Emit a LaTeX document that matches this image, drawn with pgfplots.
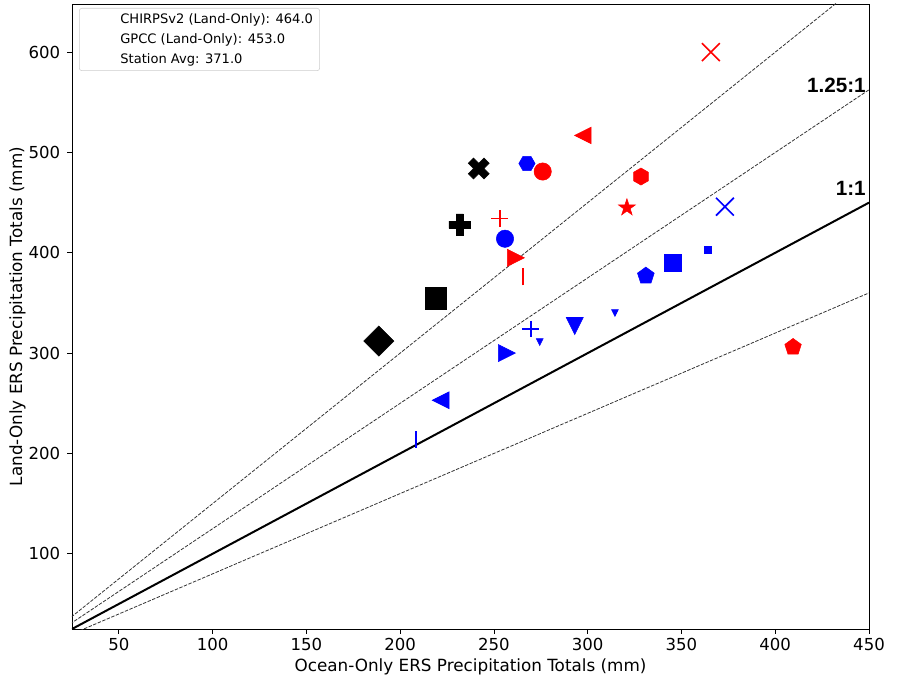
\documentclass[border=0pt]{standalone}
\usepackage{pgfplots}
\pgfplotsset{compat=1.18}
\usepackage{fontspec}
\setmainfont{DejaVu Sans}
\newfontfamily\arialf{Liberation Sans}
\newcommand\fs{\fontsize{12.6}{15}\selectfont}
\newcommand\tfs{\fontsize{12.4}{14.5}\selectfont}
\newcommand\lfs{\fontsize{9.8}{11.8}\selectfont}
\newcommand\lbf{\arialf\bfseries\fontsize{15.5}{18}\selectfont}

% marker shapes in the style of matplotlib
\newcommand\mkp[2]{\pgfpoint{#1\pgfplotmarksize}{#2\pgfplotmarksize}}
\pgfdeclareplotmark{tri*}{%
  \pgfpathmoveto{\mkp{0}{1}}\pgfpathlineto{\mkp{-1}{-1}}\pgfpathlineto{\mkp{1}{-1}}%
  \pgfpathclose\pgfusepathqfillstroke}
\pgfdeclareplotmark{hex*}{%
  \pgfpathmoveto{\pgfpointpolar{90}{\pgfplotmarksize}}%
  \pgfpathlineto{\pgfpointpolar{150}{\pgfplotmarksize}}%
  \pgfpathlineto{\pgfpointpolar{210}{\pgfplotmarksize}}%
  \pgfpathlineto{\pgfpointpolar{270}{\pgfplotmarksize}}%
  \pgfpathlineto{\pgfpointpolar{330}{\pgfplotmarksize}}%
  \pgfpathlineto{\pgfpointpolar{30}{\pgfplotmarksize}}%
  \pgfpathclose\pgfusepathqfillstroke}
\pgfdeclareplotmark{star5*}{%
  \pgfpathmoveto{\pgfpointpolar{90}{\pgfplotmarksize}}%
  \pgfpathlineto{\pgfpointpolar{126}{0.382\pgfplotmarksize}}%
  \pgfpathlineto{\pgfpointpolar{162}{\pgfplotmarksize}}%
  \pgfpathlineto{\pgfpointpolar{198}{0.382\pgfplotmarksize}}%
  \pgfpathlineto{\pgfpointpolar{234}{\pgfplotmarksize}}%
  \pgfpathlineto{\pgfpointpolar{270}{0.382\pgfplotmarksize}}%
  \pgfpathlineto{\pgfpointpolar{306}{\pgfplotmarksize}}%
  \pgfpathlineto{\pgfpointpolar{342}{0.382\pgfplotmarksize}}%
  \pgfpathlineto{\pgfpointpolar{18}{\pgfplotmarksize}}%
  \pgfpathlineto{\pgfpointpolar{54}{0.382\pgfplotmarksize}}%
  \pgfpathclose\pgfusepathqfillstroke}
\pgfdeclareplotmark{plusf*}{%
  \pgfpathmoveto{\mkp{-0.333}{-1}}\pgfpathlineto{\mkp{0.333}{-1}}%
  \pgfpathlineto{\mkp{0.333}{-0.333}}\pgfpathlineto{\mkp{1}{-0.333}}%
  \pgfpathlineto{\mkp{1}{0.333}}\pgfpathlineto{\mkp{0.333}{0.333}}%
  \pgfpathlineto{\mkp{0.333}{1}}\pgfpathlineto{\mkp{-0.333}{1}}%
  \pgfpathlineto{\mkp{-0.333}{0.333}}\pgfpathlineto{\mkp{-1}{0.333}}%
  \pgfpathlineto{\mkp{-1}{-0.333}}\pgfpathlineto{\mkp{-0.333}{-0.333}}%
  \pgfpathclose\pgfusepathqfillstroke}
\pgfdeclareplotmark{xx}{%
  \pgfpathmoveto{\mkp{-1}{-1}}\pgfpathlineto{\mkp{1}{1}}%
  \pgfpathmoveto{\mkp{-1}{1}}\pgfpathlineto{\mkp{1}{-1}}%
  \pgfusepathqstroke}
\pgfdeclareplotmark{vl}{%
  \pgfpathmoveto{\mkp{0}{-1}}\pgfpathlineto{\mkp{0}{1}}%
  \pgfusepathqstroke}

\pgfplotsset{
  pt/.style={only marks, mark options={draw=none}},
  ln/.style={only marks, mark options={line width=1.2pt}},
  noimg/.style={draw=none, legend image code/.code={\path[draw=none] (0pt,0pt) -- (25.8pt,0pt);}},
}

\begin{document}
\begin{tikzpicture}
\begin{axis}[
  scale only axis, width=597.75pt, height=468.75pt,
  xmin=25, xmax=450, ymin=25, ymax=648,
  xtick={50,100,...,450}, ytick={100,200,...,600},
  tick align=outside, tick pos=left, major tick length=3.4pt,
  every tick/.style={black, line width=0.6pt},
  axis line style={line width=0.6pt},
  ticklabel style={font=\tfs},
  yticklabel style={xshift=-2pt},
  /pgf/number format/assume math mode=true,
  label style={font=\fs},
  xlabel={Ocean-Only ERS Precipitation Totals (mm)},
  ylabel={Land-Only ERS Precipitation Totals (mm)},
  xlabel style={at={(axis description cs:0.5,-0.061)}, anchor=center},
  ylabel style={at={(axis description cs:-0.0684,0.5)}, anchor=center},
  legend cell align=left,
  legend style={at={(rel axis cs:0.0088,0.9936)}, anchor=north west,
    draw=black!20, rounded corners=2pt, font=\lfs, row sep=2pt,
    inner xsep=3pt, inner ysep=2pt},
  clip mode=individual,
]
% legend: text only
\addlegendimage{noimg}
\addlegendentry{CHIRPSv2 (Land-Only): 464.0}
\addlegendimage{noimg}
\addlegendentry{GPCC (Land-Only): 453.0}
\addlegendimage{noimg}
\addlegendentry{Station Avg: 371.0}

% ratio lines
\addplot[black, line width=1.5pt] coordinates {(25,25) (450,450)};
\addplot[black!80, line width=0.6pt, dash pattern=on 2.6pt off 1.1pt] coordinates {(0,0) (450,562.5)};
\addplot[black!80, line width=0.6pt, dash pattern=on 2.6pt off 1.1pt] coordinates {(0,0) (450,675)};
\addplot[black!80, line width=0.6pt, dash pattern=on 2.6pt off 1.1pt] coordinates {(0,0) (450,360)};

% station average (black)
\addplot[pt, black, mark=square*, mark size=8pt, mark options={rotate=45}] coordinates {(188.6,312)};
\addplot[pt, black, mark=square*, mark size=8.2pt] coordinates {(219,355)};
\addplot[pt, black, mark=plusf*, mark size=8.2pt] coordinates {(231.8,428)};
\addplot[pt, black, mark=plusf*, mark size=8.3pt, mark options={rotate=45}] coordinates {(241.9,484)};

% CHIRPSv2 (red)
\addplot[ln, red, mark=xx, mark size=6.7pt] coordinates {(365.7,600)};
\addplot[pt, red, mark=tri*, mark size=6.2pt, mark options={rotate=90}] coordinates {(297.4,517)};
\addplot[pt, red, mark=*, mark size=6.5pt] coordinates {(276,481)};
\addplot[pt, red, mark=hex*, mark size=6.4pt] coordinates {(328.4,476)};
\addplot[pt, red, mark=star5*, mark size=6.7pt] coordinates {(320.9,445)};
\addplot[ln, red, mark=+, mark size=6.2pt] coordinates {(253.1,434)};
\addplot[pt, red, mark=tri*, mark size=6.4pt, mark options={rotate=-90}] coordinates {(261.7,395)};
\addplot[ln, red, mark=vl, mark size=6.4pt] coordinates {(265.4,376)};
\addplot[pt, red, mark=pentagon*, mark size=6.5pt] coordinates {(409.5,306)};

% GPCC (blue)
\addplot[pt, blue, mark=hex*, mark size=6.1pt, mark options={rotate=90}] coordinates {(267.6,489)};
\addplot[pt, blue, mark=*, mark size=6.5pt] coordinates {(255.9,414)};
\addplot[ln, blue, mark=xx, mark size=6.7pt] coordinates {(373.2,446)};
\addplot[pt, blue, mark=square*, mark size=2.6pt] coordinates {(364.1,403)};
\addplot[pt, blue, mark=square*, mark size=6.6pt] coordinates {(345.4,390)};
\addplot[pt, blue, mark=pentagon*, mark size=6.6pt] coordinates {(331,377)};
\addplot[pt, blue, mark=tri*, mark size=2.6pt, mark options={rotate=180}] coordinates {(314.5,340)};
\addplot[pt, blue, mark=tri*, mark size=6.4pt, mark options={rotate=180}] coordinates {(293.1,327)};
\addplot[ln, blue, mark=+, mark size=6.2pt] coordinates {(269.6,324)};
\addplot[pt, blue, mark=tri*, mark size=2.6pt, mark options={rotate=180}] coordinates {(274.4,311)};
\addplot[pt, blue, mark=tri*, mark size=6.4pt, mark options={rotate=-90}] coordinates {(256.9,300)};
\addplot[pt, blue, mark=tri*, mark size=6.4pt, mark options={rotate=90}] coordinates {(221.6,253)};
\addplot[ln, blue, mark=vl, mark size=6.4pt] coordinates {(208.3,214)};

\node[anchor=east, inner sep=0pt, font=\lbf] at (axis cs:448.4,567) {1.25:1};
\node[anchor=east, inner sep=0pt, font=\lbf] at (axis cs:448.4,464.5) {1:1};
\end{axis}
\path ([shift={(-54pt,-37.5pt)}]current axis.south west) rectangle ([shift={(21pt,3pt)}]current axis.north east);
\end{tikzpicture}
\end{document}
